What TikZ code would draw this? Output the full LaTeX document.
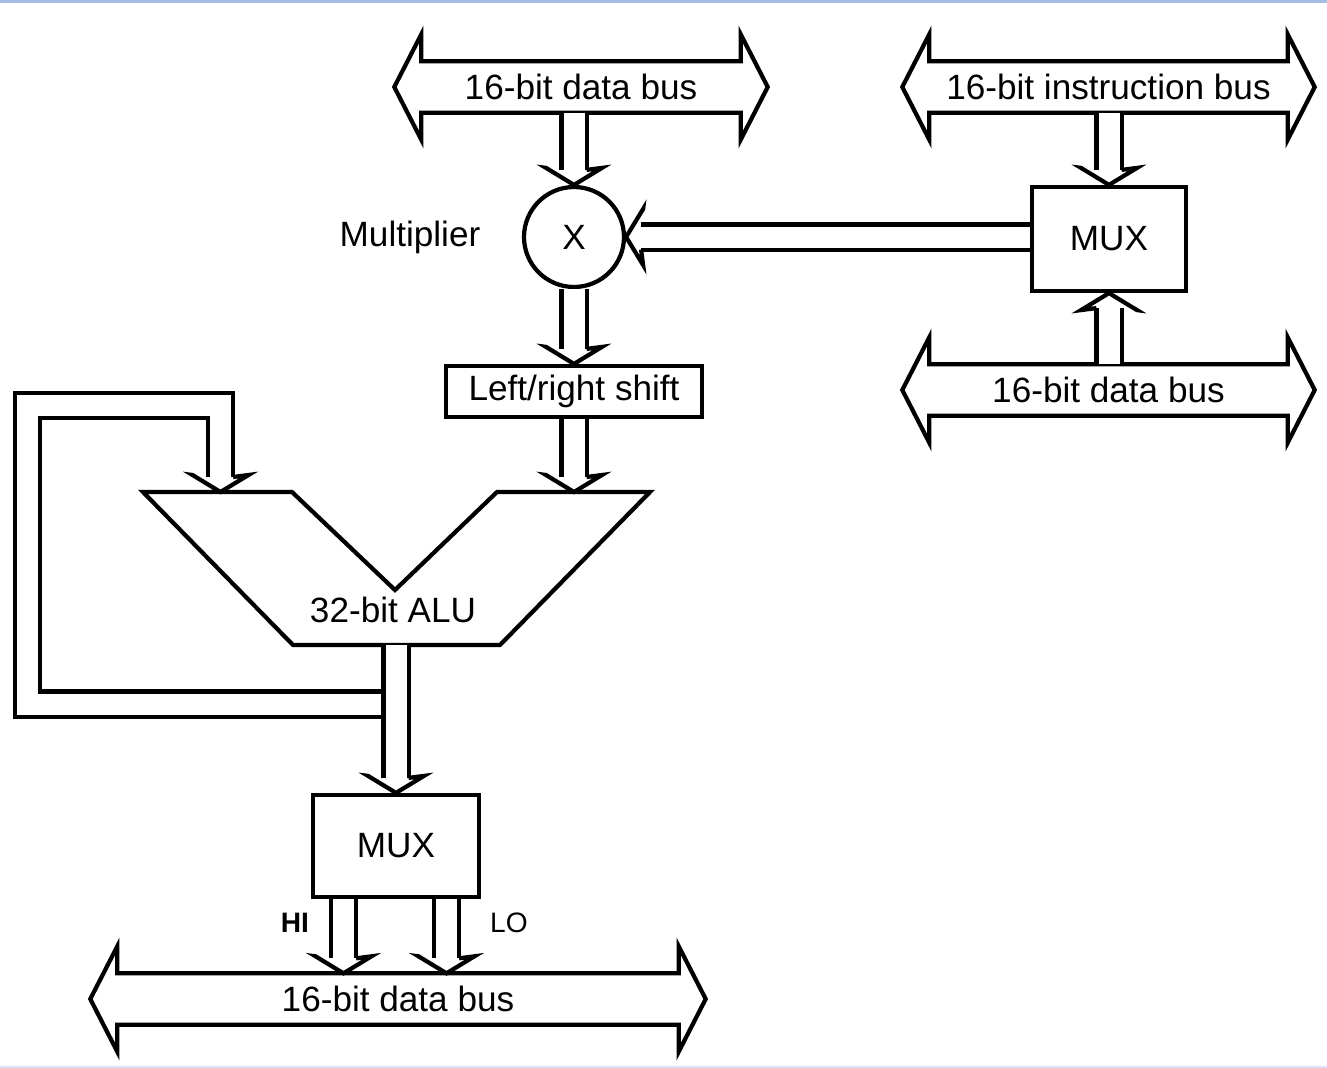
\documentclass[tikz,border=0pt]{standalone}
\usepackage{fontspec}
\setmainfont{Liberation Sans}
\usetikzlibrary{positioning,calc,decorations.markings}
\definecolor{frameblue}{RGB}{165,188,228}
\tikzstyle{unit}=[draw,line width=1.2pt,inner sep=0pt]
\tikzstyle{bus}=[inner sep=0pt,minimum height=0.5cm]
\tikzstyle{wire}=[line width=1.2pt]
\tikzstyle{link}=[double,double distance=0.21cm,line width=1.2pt,shorten >=0.15cm,
  postaction={decorate},
  decoration={markings,mark=at position 1 with {
    \draw[wire] (-0.15cm,0.126cm) -- (-0.17cm,0.28cm) -- (0,0)
      -- (-0.17cm,-0.28cm) -- (-0.15cm,-0.126cm);}}]
% block arrow drawn round a bus node
\newcommand{\busoutline}[1]{%
  \draw[wire] (#1.north west) -- (#1.north east) -- ++(0,0.27)
    -- ([xshift=0.27cm]#1.east) -- ([yshift=-0.27cm]#1.south east)
    -- (#1.south east) -- (#1.south west) -- ++(0,-0.27)
    -- ([xshift=-0.27cm]#1.west) -- ([yshift=0.27cm]#1.north west) -- cycle;}

\begin{document}
\begin{tikzpicture}[line join=miter]
    \useasboundingbox (0,0) rectangle (13.27,-10.68);
    \fill[frameblue] (0,0) rectangle (13.27,-0.03);
    \fill[frameblue!40] (0,-10.66) rectangle (13.27,-10.68);

    % buses
    \node [bus,minimum width=3.18cm] (bus1) at (5.81,-0.87) {16-bit data bus};
    \node [bus,minimum width=3.57cm] (bus2) at (11.085,-0.87) {16-bit instruction bus};
    \node [bus,minimum width=3.57cm] (bus3) at (11.085,-3.90) {16-bit data bus};
    \node [bus,minimum width=5.60cm] (bus4) at (3.98,-9.99) {16-bit data bus};
    \busoutline{bus1}
    \busoutline{bus2}
    \busoutline{bus3}
    \busoutline{bus4}

    % units
    \node [unit,circle,minimum size=1.0cm] (mult) at (5.74,-2.37) {X};
    \node (multlabel) at (4.10,-2.37) {Multiplier};
    \node [unit,minimum width=1.54cm,minimum height=1.04cm] (rmux) at (11.09,-2.39) {MUX};
    \node [unit,minimum width=2.56cm,minimum height=0.51cm] (shift) at (5.74,-3.915) {Left/right shift};
    \node [unit,minimum width=1.66cm,minimum height=1.02cm] (lmux) at (3.96,-8.46) {MUX};

    % ALU
    \coordinate (alu-in1) at (2.205,-4.92);
    \coordinate (alu-in2) at (5.74,-4.92);
    \coordinate (alu-out) at (3.96,-6.45);
    \coordinate (tap) at (3.835,-7.04);
    \draw [wire] (1.43,-4.92) -- (2.92,-4.92) -- (3.95,-5.90) -- (4.97,-4.92)
      -- (6.50,-4.92) -- (5.00,-6.45) -- (2.93,-6.45) -- cycle;
    \node (alulabel) at (3.93,-6.10) {32-bit ALU};

    % links
    \draw [link] (bus1.south -| mult) -- (mult.north);
    \draw [link] (mult.south) -- (shift.north);
    \draw [link] (rmux.west |- mult) -- (mult.east);
    \draw [link] (bus2.south -| rmux) -- (rmux.north);
    \draw [link] (bus3.north -| rmux) -- (rmux.south);
    \draw [link] (shift.south) -- (shift.south |- alu-in2);
    \draw [link] (tap) -| (0.275,-4.055) -| (alu-in1);
    \draw [link] (alu-out) -- (lmux.north);
    \draw [link] ([xshift=-0.525cm]lmux.south) -- ([xshift=-0.525cm]lmux.south |- bus4.north);
    \draw [link] ([xshift=0.505cm]lmux.south) -- ([xshift=0.505cm]lmux.south |- bus4.north);
    \node [font=\footnotesize\bfseries] (hi) at (2.95,-9.23) {HI};
    \node [font=\footnotesize] (lo) at (5.09,-9.23) {LO};
\end{tikzpicture}
\end{document}
